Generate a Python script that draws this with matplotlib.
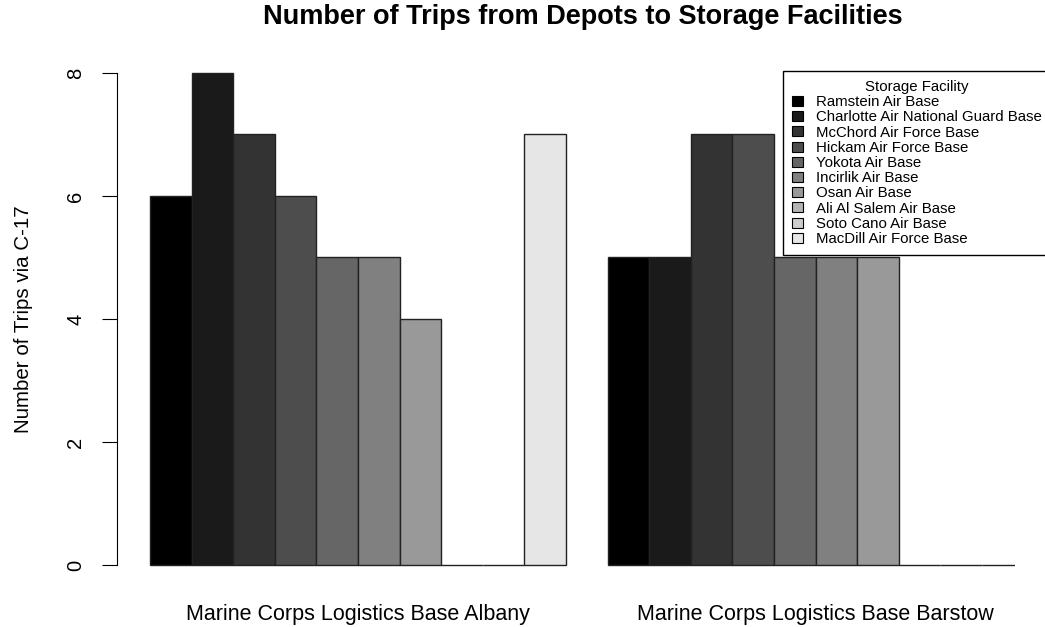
import numpy as np
import matplotlib.pyplot as plt
from matplotlib.patches import Patch

plt.rcParams["font.family"] = ["Liberation Sans", "DejaVu Sans"]

depots = ["Marine Corps Logistics Base Albany", "Marine Corps Logistics Base Barstow"]
facilities = [
    "Ramstein Air Base",
    "Charlotte Air National Guard Base",
    "McChord Air Force Base",
    "Hickam Air Force Base",
    "Yokota Air Base",
    "Incirlik Air Base",
    "Osan Air Base",
    "Ali Al Salem Air Base",
    "Soto Cano Air Base",
    "MacDill Air Force Base",
]
albany = [6, 8, 7, 6, 5, 5, 4, 0, 0, 7]
barstow = [5, 5, 7, 7, 5, 5, 5, 0, 0, 0]
grays = [str(g / 10) for g in range(10)]  # gray(0:9/10)

W, H = 1045, 627
fig = plt.figure(figsize=(W / 100, H / 100), dpi=100)
ax = fig.add_axes([0.1117, 0.0675, 0.8599, 0.8475])

n = len(facilities)
counts = np.array([albany, barstow])
for g in range(len(depots)):
    # beside=TRUE, space=c(0,1): bars start at 1, one bar gap between groups
    lefts = 1 + g * (n + 1) + np.arange(n)
    ax.bar(lefts, counts[g], width=1.0, align="edge", color=grays,
           edgecolor="#222222", linewidth=1.0)

total = len(depots) * (n + 1) - 1
ax.set_xlim(1 - 0.04 * (total - 1), total + 0.04 * (total - 1))
ax.set_ylim(-0.32, 8.32)

for s in ["top", "right", "bottom"]:
    ax.spines[s].set_visible(False)
ax.spines["left"].set_bounds(0, 8)
ax.set_yticks([0, 2, 4, 6, 8])
ax.tick_params(axis="y", labelrotation=90, length=10.8, pad=12, labelsize=14.5)
for lab in ax.get_yticklabels():
    lab.set_va("center")
ax.set_ylabel("Number of Trips via C-17", fontsize=14.8)
ax.yaxis.set_label_coords(-0.093, 0.5)

centers = [1 + g * (n + 1) + n / 2 for g in range(len(depots))]
ax.set_xticks(centers)
ax.set_xticklabels(depots, fontsize=15.5)
ax.tick_params(axis="x", length=0, pad=14)

fig.text(583 / W, 1 - 17 / H, "Number of Trips from Depots to Storage Facilities",
         fontsize=19.5, fontweight="bold", ha="center", va="center")

handles = [Patch(facecolor=c, edgecolor="black", linewidth=0.8) for c in grays]
leg = fig.legend(handles, facilities, title="Storage Facility",
                 loc="upper left", bbox_to_anchor=(783 / W, 1 - 71 / H),
                 fontsize=10.8, title_fontsize=10.8, frameon=True, fancybox=False,
                 edgecolor="black", framealpha=1, handlelength=0.75, handleheight=0.65,
                 labelspacing=0.08, handletextpad=0.85, borderpad=0.6, borderaxespad=0)
leg.get_frame().set_linewidth(1.0)

fig.savefig("out.png", dpi=100)
